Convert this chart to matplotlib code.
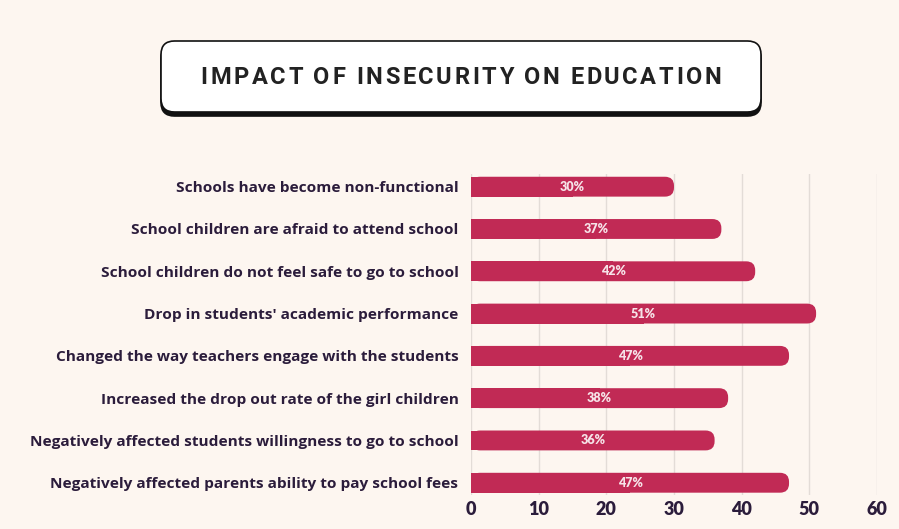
import matplotlib.pyplot as plt
from matplotlib.patches import FancyBboxPatch, Rectangle

categories = [
    "Schools have become non-functional",
    "School children are afraid to attend school",
    "School children do not feel safe to go to school",
    "Drop in students' academic performance",
    "Changed the way teachers engage with the students",
    "Increased the drop out rate of the girl children",
    "Negatively affected students willingness to go to school",
    "Negatively affected parents ability to pay school fees",
]
values = [30, 37, 42, 51, 47, 38, 36, 47]
xticks = [0, 10, 20, 30, 40, 50, 60]
title = "IMPACT OF INSECURITY ON EDUCATION"

bg = "#fdf6f0"
bar_color = "#c12a55"
label_color = "#2b1c3b"

fig = plt.figure(figsize=(8.99, 5.29), dpi=100, facecolor=bg)
ax = fig.add_axes([471 / 899, 1 - 495 / 529, 406 / 899, 321 / 529])
ax.set_facecolor(bg)

bar_h = 0.47
ax.set_xlim(0, 60)
ax.set_ylim(len(categories) - 1 + 0.29, -0.3)

# rounded right end: aspect between x and y data units in pixels
px_x = 406 / 60
px_y = 321 / (len(categories) - 1 + 0.59)
r_px = 9
rx = r_px / px_x
for i, v in enumerate(values):
    ax.add_patch(FancyBboxPatch((0, i - bar_h / 2), v, bar_h,
                                boxstyle=f"round,pad=0,rounding_size={rx}",
                                mutation_aspect=px_x / px_y,
                                fc=bar_color, ec="none", zorder=3))
    ax.add_patch(Rectangle((0, i - bar_h / 2), v / 2, bar_h,
                           fc=bar_color, ec="none", zorder=3))
    ax.text(v / 2, i, f"{v}%", ha="center", va="center", color="#f6e3e8",
            fontsize=9, fontweight="heavy", family="Lato", zorder=4)

ax.set_xticks(xticks)
ax.set_xticklabels([str(t) for t in xticks], fontsize=13, fontweight="heavy",
                   color=label_color, family="Lato")
ax.set_yticks(range(len(categories)))
ax.set_yticklabels(categories, fontsize=11.1, fontweight="bold",
                   color=label_color, family="Open Sans")
ax.tick_params(length=0)
ax.tick_params(axis="x", pad=4)
ax.tick_params(axis="y", pad=9)
ax.grid(axis="x", color="#e3dcd7", lw=1, zorder=0)
for s in ax.spines.values():
    s.set_visible(False)

# title box with dark drop shadow
shadow = FancyBboxPatch((161 / 899, 1 - 116 / 529), 600 / 899, 71 / 529,
                        boxstyle="round,pad=0,rounding_size=0.015",
                        transform=fig.transFigure, fc="#111111", ec="#111111",
                        lw=1.2, mutation_aspect=899 / 529)
box = FancyBboxPatch((161 / 899, 1 - 112 / 529), 600 / 899, 71 / 529,
                     boxstyle="round,pad=0,rounding_size=0.015",
                     transform=fig.transFigure, fc="white", ec="#111111",
                     lw=1.2, mutation_aspect=899 / 529)
fig.patches.extend([shadow, box])

# title with letter spacing: place each character by measured width
renderer = fig.canvas.get_renderer()
tracking = 2.6
chars = []
widths = []
for ch in title:
    t = fig.text(0, 0, ch, fontsize=17, fontweight="bold", color="#222222",
                 family="Roboto", va="center", ha="left")
    w = t.get_window_extent(renderer).width if ch != " " else 5.5
    chars.append(t)
    widths.append(w)
total = sum(widths) + tracking * (len(title) - 1)
x = 461 - total / 2
for t, w in zip(chars, widths):
    t.set_position((x / 899, 1 - 77 / 529))
    x += w + tracking

fig.savefig("out.png", dpi=100, facecolor=bg)
